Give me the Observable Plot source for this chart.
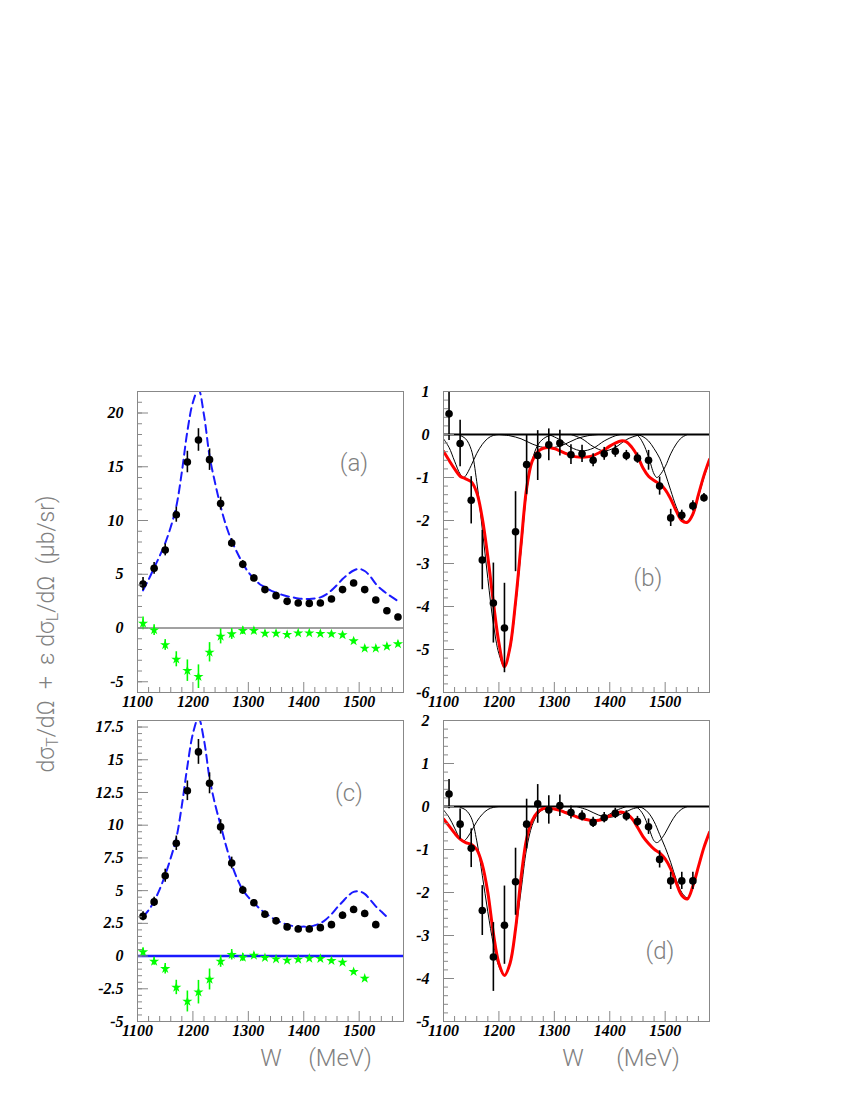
<!DOCTYPE html>
<html><head><meta charset="utf-8">
<script src="https://cdn.jsdelivr.net/npm/d3@7"></script>
<script src="https://cdn.jsdelivr.net/npm/@observablehq/plot@0.6"></script>
<style>
body{margin:0;background:#fff;}
#wrap{position:relative;width:850px;height:1100px;overflow:hidden;}
.lbl{position:absolute;font-family:Roboto,"Open Sans","DejaVu Sans",sans-serif;font-weight:300;color:#808080;white-space:nowrap;line-height:1;}
.lbl sub{font-size:0.7em;vertical-align:-0.25em;}
</style></head><body><div id="wrap"></div>
<script>
// ---------- shared axis data ----------
const xMajor = [1100, 1200, 1300, 1400, 1500];
const xLabels = ["1100", "1200", "1300", "1400", "1500"];

// ---------- panel (a) ----------
const aW = [1110,1130,1150,1170,1190,1210,1230,1250,1270,1290,1310,1330,1350,1370,1390,1410,1430,1450,1470,1490,1510,1530,1550,1570];
const aBlack = [4.09,5.55,7.26,10.54,15.44,17.49,15.66,11.57,7.91,5.92,4.65,3.57,3.01,2.48,2.33,2.29,2.33,2.70,3.57,4.19,3.57,2.60,1.61,1.02];
const aBlackErr = [0.6,0.55,0.55,0.7,1.0,1.05,1.0,0.6,0.4,0.35,0.3,0.25,0.25,0.25,0.25,0.25,0.25,0.25,0.25,0.25,0.25,0.25,0.25,0.25];
const aGreen = [0.43,-0.19,-1.58,-2.91,-3.97,-4.53,-2.26,-0.78,-0.56,-0.25,-0.25,-0.5,-0.5,-0.62,-0.47,-0.47,-0.53,-0.56,-0.65,-1.21,-1.89,-1.89,-1.71,-1.49];
const aGreenErr = [0.6,0.5,0.5,0.7,1.0,1.1,0.9,0.7,0.5,0.35,0.3,0.25,0.25,0.25,0.25,0.25,0.25,0.25,0.25,0.25,0.25,0.25,0.25,0.25];
const aCurveW = [1110,1120,1130,1140,1150,1160,1170,1180,1190,1200,1210,1220,1230,1240,1250,1260,1270,1280,1290,1300,1310,1320,1330,1340,1350,1360,1370,1380,1390,1400,1410,1420,1430,1440,1450,1460,1470,1480,1490,1500,1510,1520,1530,1540,1550,1560,1570];
const aCurve = [3.5,4.5,5.6,6.7,7.9,9.4,11.3,14.5,18.3,21.0,22.2,19.8,16.0,13.5,11.3,9.5,8.1,7.0,6.0,5.2,4.6,4.1,3.8,3.5,3.3,3.1,2.95,2.85,2.75,2.7,2.7,2.75,2.85,3.1,3.5,4.0,4.55,5.0,5.35,5.5,5.3,4.8,4.1,3.6,3.2,2.85,2.5];
const aYTicks = [-5, 0, 5, 10, 15, 20];
const aYLabels = ["-5", "0", "5", "10", "15", "20"];

// ---------- panel (c) ----------
const cW = [1110,1130,1150,1170,1190,1210,1230,1250,1270,1290,1310,1330,1350,1370,1390,1410,1430,1450,1470,1490,1510,1530];
const cBlack = [3.04,4.14,6.14,8.62,12.63,15.60,13.20,9.87,7.11,5.04,4.07,3.20,2.69,2.23,2.07,2.07,2.17,2.40,3.12,3.56,3.25,2.40];
const cBlackErr = [0.35,0.35,0.5,0.55,0.75,0.95,0.8,0.55,0.45,0.3,0.25,0.25,0.25,0.25,0.25,0.25,0.25,0.25,0.25,0.25,0.25,0.25];
const cGW = [1110,1130,1150,1170,1190,1210,1230,1250,1270,1290,1310,1330,1350,1370,1390,1410,1430,1450,1470,1490,1510];
const cGreen = [0.31,-0.41,-0.97,-2.40,-3.47,-2.76,-1.79,-0.41,0.10,-0.10,0.05,-0.13,-0.23,-0.33,-0.26,-0.18,-0.20,-0.36,-0.48,-1.20,-1.71];
const cGreenErr = [0.3,0.3,0.4,0.55,0.8,0.9,0.8,0.45,0.4,0.3,0.2,0.15,0.15,0.15,0.15,0.15,0.15,0.15,0.15,0.15,0.15];
const cCurveW = [1110,1120,1130,1140,1150,1160,1170,1180,1190,1200,1210,1220,1230,1240,1250,1260,1270,1280,1290,1300,1310,1320,1330,1340,1350,1360,1370,1380,1390,1400,1410,1420,1430,1440,1450,1460,1470,1480,1490,1500,1510,1520,1530,1540,1550];
const cCurve = [3.0,3.5,4.2,5.1,6.2,7.5,9.0,11.5,14.5,17.0,18.2,16.5,13.6,11.6,10.0,8.4,7.0,5.9,5.05,4.5,4.05,3.65,3.3,3.0,2.75,2.55,2.4,2.3,2.25,2.25,2.25,2.35,2.5,2.8,3.2,3.7,4.15,4.6,4.9,4.95,4.75,4.3,3.8,3.4,3.0];
const cYTicks = [-5, -2.5, 0, 2.5, 5, 7.5, 10, 12.5, 15, 17.5];
const cYLabels = ["-5", "-2.5", "0", "2.5", "5", "7.5", "10", "12.5", "15", "17.5"];

// ---------- panel (b) ----------
const bW = [1110,1130,1150,1170,1190,1210,1230,1250,1270,1290,1310,1330,1350,1370,1390,1410,1430,1450,1470,1490,1510,1530,1550,1570];
const bBlack = [0.48,-0.21,-1.53,-2.92,-3.92,-4.50,-2.26,-0.70,-0.49,-0.24,-0.20,-0.47,-0.45,-0.60,-0.45,-0.39,-0.49,-0.55,-0.60,-1.20,-1.94,-1.88,-1.66,-1.47];
const bErr = [0.62,0.54,0.55,0.69,0.93,1.04,0.93,0.7,0.58,0.37,0.3,0.23,0.2,0.15,0.15,0.14,0.12,0.12,0.23,0.21,0.2,0.12,0.12,0.1];
const fitW = [1100,1110,1120,1130,1140,1150,1160,1170,1180,1190,1200,1210,1220,1230,1240,1250,1260,1270,1280,1290,1300,1310,1320,1330,1340,1350,1360,1370,1380,1390,1400,1410,1420,1430,1440,1450,1460,1470,1480,1490,1500,1510,1520,1530,1540,1550,1560,1570,1580];
const bRed = [-0.39,-0.6,-0.8,-0.97,-1.03,-1.1,-1.35,-1.95,-2.85,-3.9,-4.85,-5.4,-4.95,-3.9,-2.55,-1.25,-0.62,-0.4,-0.32,-0.3,-0.33,-0.38,-0.44,-0.49,-0.52,-0.53,-0.52,-0.49,-0.43,-0.36,-0.27,-0.2,-0.15,-0.17,-0.3,-0.5,-0.78,-0.97,-1.07,-1.15,-1.28,-1.5,-1.78,-2.0,-2.04,-1.85,-1.4,-0.95,-0.58];
const bC1W = [1100,1110,1120,1130,1136,1140,1150,1160,1170,1180,1190,1200,1210];
const bC1 = [-0.1,-0.3,-0.62,-0.92,-1.0,-0.96,-0.72,-0.44,-0.23,-0.09,-0.02,0,0];
const bC2W = [1130,1140,1150,1160,1170,1180,1190,1200,1210,1220,1230,1240,1250,1260,1270,1280,1290,1300];
const bC2 = [-0.02,-0.1,-0.35,-1.1,-2.2,-3.35,-4.4,-5.1,-5.4,-5.0,-4.0,-2.7,-1.35,-0.6,-0.25,-0.1,-0.03,0];
const bC3W = [1200,1220,1240,1260,1280,1300,1320,1340,1360,1380];
const bC3 = [0,-0.03,-0.1,-0.22,-0.3,-0.3,-0.22,-0.1,-0.03,0];
const bC4W = [1290,1310,1330,1350,1370,1390,1410,1420];
const bC4 = [0,-0.12,-0.3,-0.38,-0.32,-0.15,-0.03,0];
const bC5W = [1330,1350,1370,1390,1410,1430,1450,1460];
const bC5 = [0,-0.1,-0.28,-0.38,-0.3,-0.12,-0.02,0];
const bC6W = [1440,1450,1460,1470,1480,1485,1490,1500,1510,1520,1530,1540];
const bC6 = [0,-0.02,-0.2,-0.52,-0.92,-1.0,-0.95,-0.75,-0.45,-0.22,-0.07,0];
const bC7W = [1450,1460,1470,1480,1490,1500,1510,1520,1530,1540,1550,1560,1570,1580];
const bC7 = [0,-0.05,-0.15,-0.33,-0.55,-0.9,-1.3,-1.68,-1.95,-2.04,-1.88,-1.45,-1.0,-0.62];
const bYTicks = [-6, -5, -4, -3, -2, -1, 0, 1];
const bYLabels = ["-6", "-5", "-4", "-3", "-2", "-1", "0", "1"];

// ---------- panel (d) ----------
const dW = [1110,1130,1150,1170,1190,1210,1230,1250,1270,1290,1310,1330,1350,1370,1390,1410,1430,1450,1470,1490,1510,1530,1550];
const dBlack = [0.29,-0.41,-0.97,-2.42,-3.50,-2.76,-1.75,-0.41,0.06,-0.08,0.02,-0.14,-0.22,-0.37,-0.26,-0.16,-0.22,-0.35,-0.47,-1.23,-1.73,-1.73,-1.73];
const dErr = [0.34,0.35,0.45,0.58,0.8,0.91,0.78,0.58,0.45,0.33,0.25,0.15,0.12,0.12,0.12,0.12,0.12,0.12,0.18,0.2,0.2,0.2,0.2];
const dRed = [-0.29,-0.45,-0.62,-0.76,-0.84,-0.88,-1.0,-1.35,-2.0,-2.95,-3.65,-3.93,-3.65,-2.85,-1.65,-0.75,-0.33,-0.13,-0.05,-0.04,-0.06,-0.09,-0.14,-0.19,-0.24,-0.28,-0.31,-0.33,-0.32,-0.28,-0.22,-0.17,-0.13,-0.17,-0.28,-0.48,-0.7,-0.86,-0.99,-1.08,-1.22,-1.45,-1.78,-2.07,-2.15,-1.85,-1.4,-0.95,-0.6];
const dC1W = [1100,1110,1120,1130,1136,1140,1150,1160,1170,1180,1190,1200];
const dC1 = [-0.08,-0.25,-0.5,-0.75,-0.8,-0.77,-0.58,-0.35,-0.18,-0.07,-0.02,0];
const dC2W = [1130,1140,1150,1160,1170,1180,1190,1200,1210,1220,1230,1240,1250,1260,1270,1280,1290,1300];
const dC2 = [-0.02,-0.08,-0.26,-0.8,-1.6,-2.45,-3.2,-3.72,-3.93,-3.65,-2.9,-1.95,-0.98,-0.44,-0.18,-0.07,-0.02,0];
const dC4W = [1270,1300,1320,1340,1360,1370,1390,1410,1430];
const dC4 = [0,-0.05,-0.12,-0.22,-0.32,-0.34,-0.25,-0.1,0];
const dC5W = [1340,1360,1380,1400,1420,1440,1460];
const dC5 = [0,-0.08,-0.2,-0.25,-0.18,-0.06,0];
const dC6W = [1440,1450,1460,1470,1480,1485,1490,1500,1510,1520,1530,1540];
const dC6 = [0,-0.03,-0.18,-0.48,-0.8,-0.84,-0.8,-0.62,-0.38,-0.18,-0.06,0];
const dC7W = [1450,1460,1470,1480,1490,1500,1510,1520,1530,1540,1550,1560,1570,1580];
const dC7 = [0,-0.04,-0.15,-0.35,-0.65,-0.95,-1.3,-1.7,-2.0,-2.12,-1.85,-1.4,-0.95,-0.6];
const dYTicks = [-5, -4, -3, -2, -1, 0, 1, 2];
const dYLabels = ["-5", "-4", "-3", "-2", "-1", "0", "1", "2"];

// ---------- helpers ----------
const wrap = document.getElementById("wrap");
const FRAME_H = 301, FRAME_W = 266;
const tickFont = {fontFamily: "'Liberation Serif','DejaVu Serif',serif", fontSize: 16, fontStyle: "italic", fontWeight: "bold", fill: "#000"};
const GREEN = "#00ff00", BLUE = "#1a1aff", RED = "#ff0000";
const xMinor = d3.range(1100, 1581, 20).filter(v => !xMajor.includes(v));

const pts = (ws, vs, es) => ws.map((w, i) => ({w, v: vs[i], e: es ? es[i] : 0}));
const ser = (ws, vs) => ws.map((w, i) => ({w, v: vs[i]}));

function errMarks(data, color, sym, r) {
  return [
    Plot.ruleX(data, {x: "w", y1: d => d.v - d.e, y2: d => d.v + d.e, stroke: color, strokeWidth: 1.6, clip: true}),
    Plot.dot(data, {x: "w", y: "v", symbol: sym, r, fill: color, stroke: "none"})
  ];
}
function thin(ws, vs) {
  return Plot.line(ser(ws, vs), {x: "w", y: "v", stroke: "#000", strokeWidth: 1, curve: "catmull-rom", clip: true});
}

function panel(cfg) {
  const marks = [
    ...cfg.marks,
    Plot.tickY(cfg.yMinor, {y: d => d, insetRight: FRAME_W - 5, stroke: "#888"}),
    Plot.tickY(cfg.yTicks, {y: d => d, insetRight: FRAME_W - 11, stroke: "#888"}),
    Plot.tickX(xMinor, {x: d => d, insetTop: FRAME_H - 5, stroke: "#888"}),
    Plot.tickX(xMajor, {x: d => d, insetTop: FRAME_H - 10, stroke: "#888"}),
    Plot.frame({stroke: "#888"}),
    Plot.text(cfg.yTicks, {y: d => d, text: cfg.yLabels, frameAnchor: "left", dx: -14, textAnchor: "end", ...tickFont}),
    Plot.text(xMajor, {x: d => d, text: xLabels, frameAnchor: "bottom", dy: 14, ...tickFont})
  ];
  const svg = Plot.plot({
    width: 326, height: 351,
    marginLeft: 50, marginRight: 10, marginTop: 10, marginBottom: 40,
    x: {domain: [1100, 1580], axis: null},
    y: {domain: cfg.yDomain, axis: null},
    style: {background: "transparent", overflow: "visible"},
    marks
  });
  svg.style.position = "absolute";
  svg.style.left = cfg.left + "px";
  svg.style.top = cfg.top + "px";
  wrap.appendChild(svg);
}

// (a)
panel({
  left: 87, top: 381, yDomain: [-6, 22], yTicks: aYTicks, yLabels: aYLabels,
  yMinor: d3.range(-6, 22.01, 1),
  marks: [
    Plot.ruleY([0], {stroke: "#444", strokeWidth: 1}),
    ...errMarks(pts(aW, aGreen, aGreenErr), GREEN, "star", 3.2),
    Plot.line(ser(aCurveW, aCurve), {x: "w", y: "v", stroke: BLUE, strokeWidth: 2, strokeDasharray: "8,5", curve: "catmull-rom", clip: true}),
    ...errMarks(pts(aW, aBlack, aBlackErr), "#000", "circle", 3.8)
  ]
});
// (b)
panel({
  left: 393, top: 381, yDomain: [-6, 1], yTicks: bYTicks, yLabels: bYLabels,
  yMinor: d3.range(-6, 1.01, 0.2),
  marks: [
    thin(bC1W, bC1), thin(bC2W, bC2), thin(bC3W, bC3), thin(bC4W, bC4),
    thin(bC5W, bC5), thin(bC6W, bC6), thin(bC7W, bC7),
    Plot.ruleY([0], {stroke: "#000", strokeWidth: 2}),
    Plot.line(ser(fitW, bRed), {x: "w", y: "v", stroke: RED, strokeWidth: 3, curve: "catmull-rom", clip: true}),
    ...errMarks(pts(bW, bBlack, bErr), "#000", "circle", 3.8)
  ]
});
// (c)
panel({
  left: 87, top: 710, yDomain: [-5, 18], yTicks: cYTicks, yLabels: cYLabels,
  yMinor: d3.range(-5, 18.01, 0.5),
  marks: [
    Plot.ruleY([0], {stroke: BLUE, strokeWidth: 2.5}),
    ...errMarks(pts(cGW, cGreen, cGreenErr), GREEN, "star", 3.2),
    Plot.line(ser(cCurveW, cCurve), {x: "w", y: "v", stroke: BLUE, strokeWidth: 2, strokeDasharray: "8,5", curve: "catmull-rom", clip: true}),
    ...errMarks(pts(cW, cBlack, cBlackErr), "#000", "circle", 3.8)
  ]
});
// (d)
panel({
  left: 393, top: 710, yDomain: [-5, 2], yTicks: dYTicks, yLabels: dYLabels,
  yMinor: d3.range(-5, 2.01, 0.2),
  marks: [
    thin(dC1W, dC1), thin(dC2W, dC2), thin(dC4W, dC4), thin(dC5W, dC5),
    thin(dC6W, dC6), thin(dC7W, dC7),
    Plot.ruleY([0], {stroke: "#000", strokeWidth: 2}),
    Plot.line(ser(fitW, dRed), {x: "w", y: "v", stroke: RED, strokeWidth: 3, curve: "catmull-rom", clip: true}),
    ...errMarks(pts(dW, dBlack, dErr), "#000", "circle", 3.8)
  ]
});

// ---------- text labels ----------
function label(html, x, y, size, rotate) {
  const el = document.createElement("div");
  el.className = "lbl";
  el.innerHTML = html;
  el.style.left = x + "px";
  el.style.top = y + "px";
  el.style.fontSize = size + "px";
  el.style.transform = "translate(-50%,-50%)" + (rotate ? " rotate(-90deg)" : "");
  wrap.appendChild(el);
}
label("(a)", 354, 463, 24);
label("(b)", 648, 578, 24);
label("(c)", 349, 793, 24);
label("(d)", 660, 951, 24);
label("W", 271, 1058, 24);
label("(MeV)", 340, 1058, 24);
label("W", 573, 1058, 24);
label("(MeV)", 648, 1058, 24);
label("dσ<sub>T</sub>/dΩ &nbsp;+ &nbsp;ε dσ<sub>L</sub>/dΩ &nbsp;(μb/sr)", 48, 634, 23, true);
</script>
</body></html>
